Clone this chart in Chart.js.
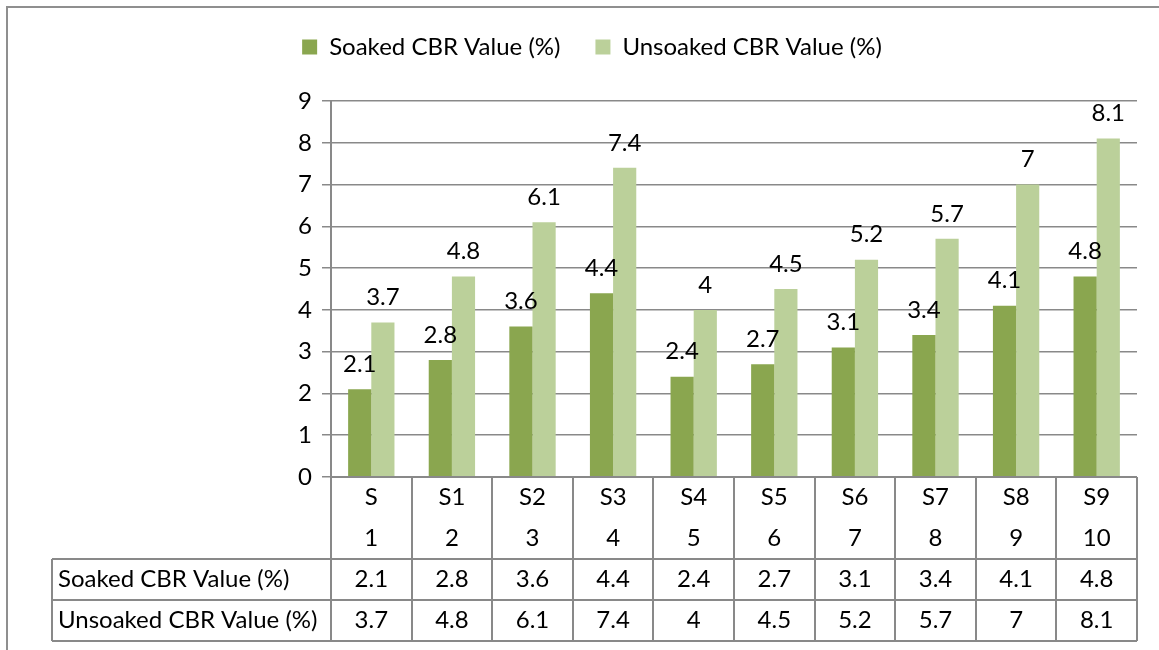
<!DOCTYPE html>
<html>
<head>
<meta charset="utf-8">
<script src="https://cdn.jsdelivr.net/npm/chart.js"></script>
<style>
  html, body { margin: 0; padding: 0; background: #fff; }
  #wrap { width: 1159px; height: 650px; }
</style>
</head>
<body>
<div id="wrap"><canvas id="myChart" width="1159" height="650"></canvas></div>
<script>
// 시료 이름과 번호
const categories = ['S', 'S1', 'S2', 'S3', 'S4', 'S5', 'S6', 'S7', 'S8', 'S9'];
const sampleNumbers = ['1', '2', '3', '4', '5', '6', '7', '8', '9', '10'];

// CBR 값 (%)
const soakedLabel = 'Soaked CBR Value (%)';
const unsoakedLabel = 'Unsoaked CBR Value (%)';
const soakedValues = [2.1, 2.8, 3.6, 4.4, 2.4, 2.7, 3.1, 3.4, 4.1, 4.8];
const unsoakedValues = [3.7, 4.8, 6.1, 7.4, 4, 4.5, 5.2, 5.7, 7, 8.1];

// y축 눈금
const yTicks = [0, 1, 2, 3, 4, 5, 6, 7, 8, 9];

const FONT = 'Lato';
const FONT_SIZE = 24;
const LINE_GRAY = '#898989';

// 범례 아래 여백 추가
const legendGap = {
    id: 'legendGap',
    beforeInit(chart) {
        const originalFit = chart.legend.fit;
        chart.legend.fit = function fit() {
            originalFit.bind(chart.legend)();
            this.height += 32;
        };
    },
};

// 막대 위 값 표시
const valueLabels = {
    id: 'valueLabels',
    afterDatasetsDraw(chart) {
        const ctx = chart.ctx;
        ctx.save();
        ctx.font = `${FONT_SIZE}px ${FONT}`;
        ctx.fillStyle = '#000';
        ctx.textAlign = 'center';
        ctx.textBaseline = 'middle';
        chart.data.datasets.forEach((dataset, di) => {
            const meta = chart.getDatasetMeta(di);
            meta.data.forEach((bar, i) => {
                ctx.fillText(String(dataset.data[i]), bar.x, bar.y - 25);
            });
        });
        ctx.restore();
    },
};

// 바깥 테두리 + 데이터 테이블
const dataTable = {
    id: 'dataTable',
    beforeDraw(chart) {
        const ctx = chart.ctx;
        ctx.save();
        ctx.strokeStyle = '#8f8f8f';
        ctx.lineWidth = 2;
        ctx.strokeRect(7, 7, 1300, 800);
        ctx.restore();
    },
    afterDraw(chart) {
        const ctx = chart.ctx;
        const x = chart.scales.x;
        const area = chart.chartArea;
        const step = x.getPixelForValue(1) - x.getPixelForValue(0);
        const top = area.bottom;
        const rowH = 41;
        const labelLeft = 52;
        const right = area.right;

        ctx.save();
        ctx.strokeStyle = LINE_GRAY;
        ctx.lineWidth = 2;
        ctx.beginPath();
        // 가로선
        ctx.moveTo(area.left, top);
        ctx.lineTo(right, top);
        [2, 3, 4].forEach((r) => {
            ctx.moveTo(labelLeft, top + r * rowH);
            ctx.lineTo(right, top + r * rowH);
        });
        // 세로선
        for (let i = 0; i <= categories.length; i++) {
            const px = Math.round(x.getPixelForValue(i) - step / 2);
            ctx.moveTo(px, top);
            ctx.lineTo(px, top + 4 * rowH);
        }
        ctx.moveTo(labelLeft, top + 2 * rowH);
        ctx.lineTo(labelLeft, top + 4 * rowH);
        ctx.stroke();

        ctx.font = `${FONT_SIZE}px ${FONT}`;
        ctx.fillStyle = '#000';
        ctx.textBaseline = 'middle';
        ctx.textAlign = 'center';
        categories.forEach((c, i) => {
            const cx = x.getPixelForValue(i);
            ctx.fillText(c, cx, top + rowH * 0.5);
            ctx.fillText(sampleNumbers[i], cx, top + rowH * 1.5);
            ctx.fillText(String(soakedValues[i]), cx, top + rowH * 2.5);
            ctx.fillText(String(unsoakedValues[i]), cx, top + rowH * 3.5);
        });
        ctx.textAlign = 'left';
        ctx.fillText(soakedLabel, labelLeft + 6, top + rowH * 2.5);
        ctx.fillText(unsoakedLabel, labelLeft + 6, top + rowH * 3.5);
        ctx.restore();
    },
};

const ctx = document.getElementById('myChart').getContext('2d');
new Chart(ctx, {
    type: 'bar',
    data: {
        labels: categories,
        datasets: [
            {
                label: soakedLabel,
                data: soakedValues,
                backgroundColor: '#8aa64f',
                borderWidth: 0,
                categoryPercentage: 0.575,
                barPercentage: 1.0,
            },
            {
                label: unsoakedLabel,
                data: unsoakedValues,
                backgroundColor: '#bbd09a',
                borderWidth: 0,
                categoryPercentage: 0.575,
                barPercentage: 1.0,
            },
        ],
    },
    options: {
        responsive: false,
        animation: false,
        devicePixelRatio: 1,
        layout: {
            padding: { left: 47, right: 22, top: 0, bottom: 173 },
        },
        plugins: {
            legend: {
                position: 'top',
                labels: {
                    boxWidth: 15,
                    boxHeight: 15,
                    padding: 35,
                    color: '#000',
                    font: { family: FONT, size: FONT_SIZE },
                },
            },
            tooltip: { enabled: false },
        },
        scales: {
            x: {
                display: false,
            },
            y: {
                min: 0,
                max: 9,
                afterBuildTicks(scale) {
                    scale.ticks = yTicks.map((v) => ({ value: v }));
                },
                afterFit(scale) {
                    scale.width = 284;
                },
                grid: {
                    color: LINE_GRAY,
                    lineWidth: 1.5,
                    tickLength: 9,
                },
                border: {
                    color: LINE_GRAY,
                    width: 2,
                },
                ticks: {
                    padding: 10,
                    color: '#000',
                    font: { family: FONT, size: FONT_SIZE },
                },
            },
        },
    },
    plugins: [legendGap, valueLabels, dataTable],
});
</script>
</body>
</html>
